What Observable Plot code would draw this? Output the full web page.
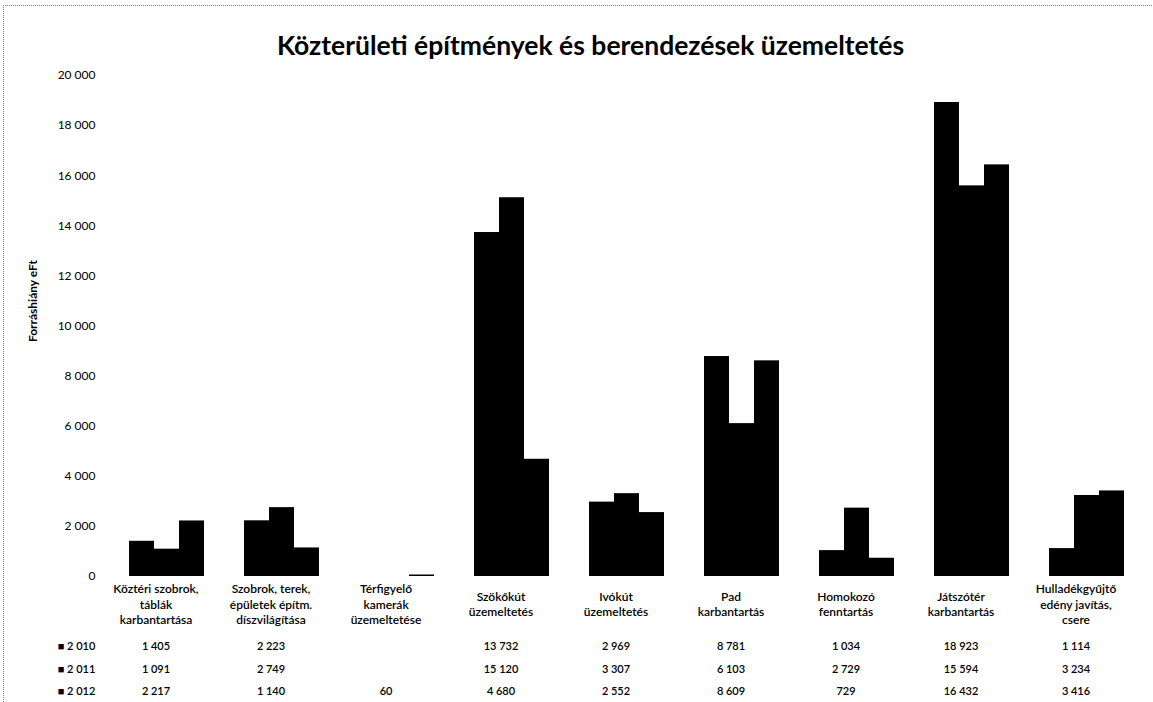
<!DOCTYPE html>
<html>
<head>
<meta charset="utf-8">
<script src="https://cdn.jsdelivr.net/npm/d3@7"></script>
<script src="https://cdn.jsdelivr.net/npm/@observablehq/plot@0.6"></script>
<style>
  html, body { margin: 0; padding: 0; background: #fff; }
  #wrap { position: relative; width: 1153px; height: 702px; overflow: hidden; }
  #frame { position: absolute; left: 3px; top: 5px; width: 1148px; height: 700px;
           border-top: 1px dotted #888; border-left: 1px dotted #888; pointer-events: none; }
  #title { height: 65px; box-sizing: border-box; padding-top: 29px; padding-left: 28px;
           text-align: center; font-family: Lato, "Open Sans", sans-serif; font-weight: 700;
           font-size: 26.5px; line-height: 32px; color: #000; }
  svg { display: block; }
</style>
</head>
<body>
<div id="wrap">
  <div id="frame"></div>
  <div id="title">Közterületi építmények és berendezések üzemeltetés</div>
  <div id="chart"></div>
</div>
<script>
const categories = [
  "Köztéri szobrok,\ntáblák\nkarbantartása",
  "Szobrok, terek,\népületek építm.\ndíszvilágítása",
  "Térfigyelő\nkamerák\nüzemeltetése",
  "Szökőkút\nüzemeltetés",
  "Ivókút\nüzemeltetés",
  "Pad\nkarbantartás",
  "Homokozó\nfenntartás",
  "Játszótér\nkarbantartás",
  "Hulladékgyűjtő\nedény javítás,\ncsere"
];
const years = ["2010", "2011", "2012"];
const yearLabels = ["■ 2 010", "■ 2 011", "■ 2 012"];
const v2010 = [1405, 2223, null, 13732, 2969, 8781, 1034, 18923, 1114];
const v2011 = [1091, 2749, null, 15120, 3307, 6103, 2729, 15594, 3234];
const v2012 = [2217, 1140, 60, 4680, 2552, 8609, 729, 16432, 3416];
const yTicks = [0, 2000, 4000, 6000, 8000, 10000, 12000, 14000, 16000, 18000, 20000];
const yLabel = "Forráshiány eFt";

const series = [v2010, v2011, v2012];
const rows = [];
years.forEach((yr, j) => categories.forEach((c, i) => rows.push({category: c, year: yr, value: series[j][i]})));

const fmt = d => d == null ? "" : d3.format(",")(d).replace(/,/g, " ");
const font = "Lato, 'Open Sans', sans-serif";
const rowDy = [70, 93, 115];

const marks = [
  Plot.barY(rows.filter(d => d.value != null), {fx: "category", x: "year", y: "value", fill: "#000"}),
  Plot.axisY({ticks: yTicks, tickSize: 0, tickPadding: 33, tickFormat: fmt, fontSize: 12, label: null}),
  Plot.text([yLabel], {frameAnchor: "left", facetAnchor: "left", dx: -95, dy: -25, rotate: -90,
                       textAnchor: "middle", fontSize: 12, fontWeight: 700, fill: "#000"}),
  Plot.text(categories, {fx: d => d, text: d => d, frameAnchor: "bottom", dy: 27, dx: -11,
                         lineAnchor: "middle", lineHeight: 1.3, fontSize: 12, fontWeight: 600, fill: "#000"})
];
years.forEach((yr, j) => {
  marks.push(Plot.text(rows.filter(d => d.year === yr), {
    fx: "category", text: d => fmt(d.value), frameAnchor: "bottom", dy: rowDy[j], dx: -11,
    lineAnchor: "middle", fontSize: 11, fontWeight: 600, fill: "#000"
  }));
  marks.push(Plot.text([yearLabels[j]], {
    frameAnchor: "bottom-left", facetAnchor: "left", dx: -52, dy: rowDy[j], textAnchor: "middle",
    lineAnchor: "middle", fontSize: 11, fontWeight: 600, fill: "#000"
  }));
});

const chart = Plot.plot({
  width: 1153,
  height: 637,
  marginTop: 10,
  marginBottom: 126,
  marginLeft: 110,
  marginRight: 10,
  style: {fontFamily: font, fontSize: "11px", color: "#000", background: "#fff"},
  fx: {domain: categories, paddingInner: 0.33, paddingOuter: 0.155, axis: null, label: null},
  x: {domain: years, padding: 0, axis: null},
  y: {domain: [0, 20000], axis: null},
  marks
});
document.getElementById("chart").appendChild(chart);
</script>
</body>
</html>
